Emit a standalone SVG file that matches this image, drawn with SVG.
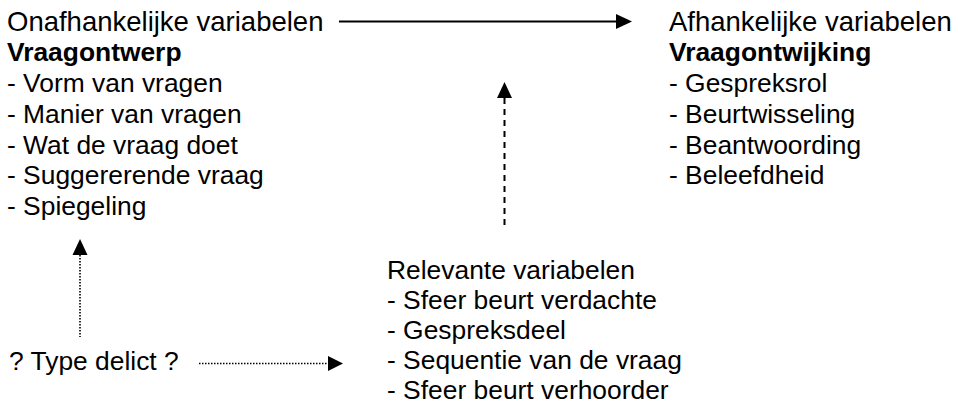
<svg xmlns="http://www.w3.org/2000/svg" width="959" height="405" viewBox="0 0 959 405">
<style>
text{font-family:"Liberation Sans",Arial,sans-serif;font-size:26.4px;fill:#000}
.h{font-size:27.5px}
.b{font-weight:bold}
.solid{stroke:#000;stroke-width:1.8;fill:none}
.dash{stroke:#000;stroke-width:2;fill:none;stroke-dasharray:6 5}
.dot{stroke:#000;stroke-width:1.6;fill:none;stroke-dasharray:1.5 1.5}
.head{fill:#000}
</style>
<rect width="959" height="405" fill="#fff"/>
<g id="onafhankelijk">
<text x="7" y="31" class="h">Onafhankelijke variabelen</text>
<text x="7" y="61" class="b">Vraagontwerp</text>
<text x="7" y="92">- Vorm van vragen</text>
<text x="7" y="123">- Manier van vragen</text>
<text x="7" y="154">- Wat de vraag doet</text>
<text x="7" y="184">- Suggererende vraag</text>
<text x="7" y="215">- Spiegeling</text>
</g>
<g id="afhankelijk">
<text x="669" y="31" class="h">Afhankelijke variabelen</text>
<text x="669" y="61" class="b">Vraagontwijking</text>
<text x="669" y="92">- Gespreksrol</text>
<text x="669" y="123">- Beurtwisseling</text>
<text x="669" y="154">- Beantwoording</text>
<text x="669" y="184">- Beleefdheid</text>
</g>
<g id="relevant">
<text x="387" y="279">Relevante variabelen</text>
<text x="387" y="309">- Sfeer beurt verdachte</text>
<text x="387" y="339">- Gespreksdeel</text>
<text x="387" y="369">- Sequentie van de vraag</text>
<text x="387" y="399">- Sfeer beurt verhoorder</text>
</g>
<g id="typedelict">
<text x="9" y="370">? Type delict ?</text>
</g>
<g id="connectors">
<line class="solid" x1="339" y1="21.5" x2="617" y2="21.5"/>
<polygon class="head" points="632,21.5 616,14 616,29"/>
<line class="dash" x1="504.5" y1="98" x2="504.5" y2="228"/>
<polygon class="head" points="504.5,82 497,98 512,98"/>
<line class="dot" x1="80" y1="255" x2="80" y2="337"/>
<polygon class="head" points="80,239 72.5,255 87.5,255"/>
<line class="dot" x1="199" y1="363.5" x2="329" y2="363.5"/>
<polygon class="head" points="343,363.5 328,356 328,371"/>
</g>
</svg>
